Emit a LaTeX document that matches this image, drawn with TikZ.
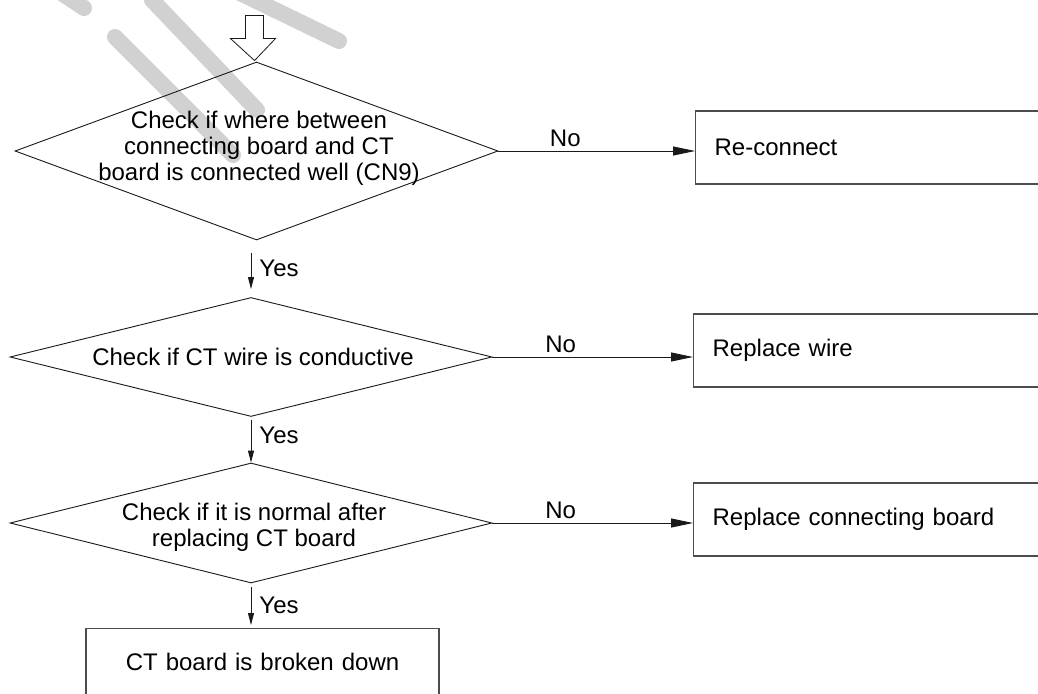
\documentclass[tikz,border=0pt]{standalone}
\usepackage{fontspec}
\setmainfont{Liberation Sans}
\usetikzlibrary{arrows.meta, positioning, shapes.geometric}

\begin{document}
\begin{tikzpicture}[x=1pt, y=-1pt,
    every node/.style={font=\fontsize{24}{26}\selectfont},
    decision/.style={diamond, draw=black!90, line width=0.9pt, inner sep=0pt},
    box/.style={rectangle, draw=black!70, line width=1.3pt, minimum height=73pt,
        inner xsep=19pt, text width=330pt, align=left},
    yesarrow/.style={-{Triangle[length=12pt, width=6pt]}, line width=0.9pt, black!90},
    noarrow/.style={-{Triangle[length=22pt, width=9pt]}, line width=0.9pt, black!90},
    lbl/.style={inner sep=4pt, text=black},
    wmline/.style={line width=16pt, line cap=round, black!18}]

    \useasboundingbox (0,0) rectangle (1038,693);
    \fill[white] (0,0) rectangle (1038,693);
    \clip (0,0) rectangle (1038,693);

    % faint strokes in the back
    \draw[wmline] (60,-8) -- (84,8);
    \draw[wmline] (115,37) -- (233,155);
    \draw[wmline] (152,0) -- (257,110);
    \draw[wmline] (238,-8) -- (339,41);

    % questions
    \node[decision, minimum width=483pt, minimum height=178pt] (d1) at (256.5,151) {};
    \node[decision, minimum width=482pt, minimum height=119pt] (d2) at (251,357) {};
    \node[decision, minimum width=482pt, minimum height=120pt] (d3) at (251,523) {};
    \node[align=center] (q1) at (259,148) {Check if where between\\connecting board and CT\\board is connected well (CN9)};
    \node (q2) at (253,357) {Check if CT wire is conductive};
    \node[align=center] (q3) at (254,527) {Check if it is normal after\\replacing CT board};

    % actions
    \node[box, anchor=west] (r1) at (695,147.5) {Re-connect};
    \node[box, anchor=west] (r2) at (693,350.5) {Replace wire};
    \node[box, anchor=west] (r3) at (693,519.5) {Replace connecting board};
    \node[box, anchor=north, text width=315pt, align=center, text height=17pt, text depth=40pt,
        inner ysep=25pt] (b1) at (262.5,628) {CT board is broken down};

    % entry arrow
    \draw[line width=0.8pt, black!90, shift={(d1.north)}]
        (-11,-46) -- (7,-46) -- (7,-23) -- (19,-23) -- (-2,-1) -- (-26,-23) -- (-11,-23) -- cycle;

    \draw[noarrow] (d1.east) -- (d1.east -| r1.west) node[lbl, above, pos=0.34] {No};
    \draw[noarrow] (d2.east) -- (d2.east -| r2.west) node[lbl, above, pos=0.34] {No};
    \draw[noarrow] (d3.east) -- (d3.east -| r3.west) node[lbl, above, pos=0.34] {No};

    \draw[yesarrow, shorten <=13pt, shorten >=8pt] (d1.south -| d2.north) -- (d2.north)
        node[lbl, right, midway, xshift=4pt] {Yes};
    \draw[yesarrow, shorten <=3pt] (d2.south) -- (d3.north)
        node[lbl, right, pos=0.4, xshift=4pt] {Yes};
    \draw[yesarrow, shorten <=4pt, shorten >=3pt] (d3.south) -- (d3.south |- b1.north)
        node[lbl, right, midway, xshift=4pt] {Yes};
\end{tikzpicture}
\end{document}
